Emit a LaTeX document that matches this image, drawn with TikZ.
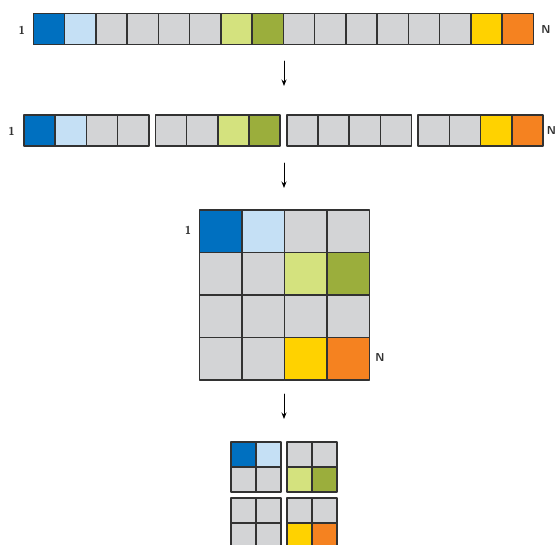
\documentclass[tikz,border=0pt]{standalone}
\usetikzlibrary{arrows.meta}

\definecolor{cA}{RGB}{0,112,192}
\definecolor{cB}{RGB}{197,224,245}
\definecolor{cG}{RGB}{211,212,214}
\definecolor{cC}{RGB}{212,226,126}
\definecolor{cD}{RGB}{155,174,60}
\definecolor{cE}{RGB}{255,210,0}
\definecolor{cF}{RGB}{245,130,32}
\definecolor{edge}{RGB}{50,50,50}

\begin{document}
\begin{tikzpicture}[
    x=1pt,
    y=-1pt,
    line cap=round,
    line join=round,
    cell/.style={draw=edge,line width=1.6pt,inner sep=0pt,minimum size=#1},
    cell/.default=31.25pt,
    lbl/.style={font=\fontsize{11.5}{12}\sffamily\bfseries,text=edge,inner sep=0pt},
    step arrow/.style={line width=0.9pt,-{Stealth[length=6.5pt,width=5pt]}}
]

% -------------------------------------------------
% Рамка рисунка
% -------------------------------------------------

\useasboundingbox (0,0) rectangle (556,544);

% -------------------------------------------------
% Вектор 1 ... N
% -------------------------------------------------

\foreach \col [count=\i] in {cA,cB,cG,cG,cG,cG,cC,cD,cG,cG,cG,cG,cG,cG,cE,cF}
    \node[cell,fill=\col] (a\i) at ({33.3+(\i-0.5)*31.25},29) {};

\node[lbl] (a1lbl) at (21.7,30) {1};
\node[lbl] (aNlbl) at (546,30) {N};

% -------------------------------------------------
% Разбиение на четыре части
% -------------------------------------------------

\foreach \col [count=\i from 0] in {cA,cB,cG,cG,cG,cG,cC,cD,cG,cG,cG,cG,cG,cG,cE,cF}{
    \pgfmathtruncatemacro{\g}{int(\i/4)}
    \pgfmathtruncatemacro{\k}{mod(\i,4)}
    \node[cell=31.2pt,fill=\col] (b\i) at ({24+\g*131.4+(\k+0.5)*31.2},130.5) {};
}

\node[lbl] (b1lbl) at (11.5,131) {1};
\node[lbl] (bNlbl) at (551.5,131) {N};

% -------------------------------------------------
% Матрица 4 x 4
% -------------------------------------------------

\foreach \col [count=\i from 0] in {cA,cB,cG,cG,cG,cG,cC,cD,cG,cG,cG,cG,cG,cG,cE,cF}{
    \pgfmathtruncatemacro{\r}{int(\i/4)}
    \pgfmathtruncatemacro{\c}{mod(\i,4)}
    \node[cell=42.5pt,fill=\col] (m\i) at ({199.3+(\c+0.5)*42.5},{210+(\r+0.5)*42.5}) {};
}

\node[lbl] (m1lbl) at (188,230) {1};
\node[lbl] (mNlbl) at (380,358) {N};

% -------------------------------------------------
% Блоки 2 x 2
% -------------------------------------------------

\foreach \col [count=\i from 0] in {cA,cB,cG,cG,cG,cG,cC,cD,cG,cG,cG,cG,cG,cG,cE,cF}{
    \pgfmathtruncatemacro{\r}{int(\i/4)}
    \pgfmathtruncatemacro{\c}{mod(\i,4)}
    \pgfmathtruncatemacro{\br}{int(\r/2)}
    \pgfmathtruncatemacro{\bc}{int(\c/2)}
    \node[cell=25pt,fill=\col] (q\i)
        at ({231+\bc*55.7+(\c-2*\bc+0.5)*25},{441.7+\br*56+(\r-2*\br+0.5)*25}) {};
}

% -------------------------------------------------
% Стрелки
% -------------------------------------------------

\coordinate (s1) at (284,61);
\coordinate (e1) at (284,86);
\coordinate (s2) at (284,163);
\coordinate (e2) at (284,188);
\coordinate (s3) at (284,394);
\coordinate (e3) at (284,419);

\draw[step arrow] (s1)--(e1);
\draw[step arrow] (s2)--(e2);
\draw[step arrow] (s3)--(e3);

\end{tikzpicture}
\end{document}
